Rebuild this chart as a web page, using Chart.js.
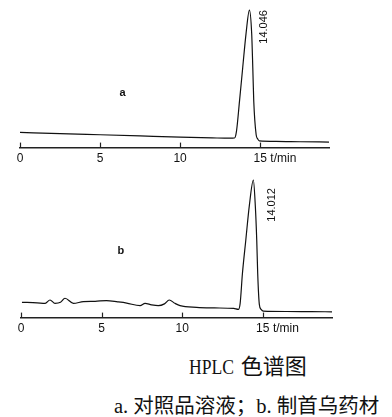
<!DOCTYPE html>
<html>
<head>
<meta charset="utf-8">
<script src="https://cdn.jsdelivr.net/npm/chart.js@4/dist/chart.umd.min.js"></script>
<style>
  body { margin: 0; background: #fff; }
  .wrap { position: relative; width: 392px; height: 417px; }
  canvas { position: absolute; left: 0; }
  #chartA { top: 0; }
  #chartB { top: 170px; }
  .cap { position: absolute; color: #111; white-space: nowrap; font-family: "Liberation Serif", "Noto Sans CJK SC", serif; }
  .cap1 { left: 189px; top: 348px; font-size: 22px; }
  .cap1 .lat { display: inline-block; transform: scaleX(0.8); transform-origin: left center; margin-right: -10px; }
  .cap2 { left: 114px; top: 389px; font-size: 20.5px; }
</style>
</head>
<body>
<div class="wrap">
  <canvas id="chartA" width="392" height="170"></canvas>
  <canvas id="chartB" width="392" height="170"></canvas>
  <div class="cap cap1"><span class="lat">HPLC</span> 色谱图</div>
  <div class="cap cap2">a. 对照品溶液；b. 制首乌药材</div>
</div>
<script>
// retention time (min) and detector signal
const timeA = [0, 2.5, 5, 7.5, 10, 12, 13.1, 13.4, 13.52, 13.71, 13.91, 14.12, 14.33, 14.47, 14.54, 14.6, 14.75, 14.85, 14.95, 16, 17.5, 19.3];
const signalA = [15, 13.9, 12.7, 11.5, 10.3, 9.6, 9.3, 9.5, 16, 46, 79, 113, 136, 113, 79, 46, 12.7, 8.5, 6.7, 6.2, 5.8, 5.5];

const timeB = [0.06, 1.0, 1.5, 1.8, 2.11, 2.45, 2.73, 3.25, 3.87, 4.6, 5.3, 6.0, 6.56, 7.39, 7.7, 8.1, 8.52, 8.9, 9.2, 9.55, 9.87, 10.9, 12.0, 13.2, 13.49, 13.6, 13.74, 13.95, 14.17, 14.42, 14.54, 14.63, 14.69, 14.79, 14.9, 15.04, 16.5, 18, 19.3];
const signalB = [15, 14.5, 14, 17.3, 14, 15, 19, 14, 15.7, 16, 16.7, 15.5, 14.3, 11.7, 14, 12.5, 11.7, 13.5, 17.3, 14, 11.7, 10, 9.5, 9, 8, 14, 43, 76, 110, 135, 110, 76, 43, 13, 8, 6.3, 6, 5.8, 5.7];

const tickValues = [0, 5, 10, 15];
const unitLabel = "t/min";
const traceNames = ["a", "b"];
const peakLabels = ["14.046", "14.012"];

const axisFont = { family: "Liberation Sans", size: 12 };

const decor = {
  id: "decor",
  afterDraw (chart, args, opts) {
    const { ctx, scales: { x, y } } = chart;
    ctx.save();
    ctx.strokeStyle = "#222";
    ctx.lineWidth = 1.2;
    tickValues.forEach((v) => {
      const px = Math.round(x.getPixelForValue(v)) + 0.5;
      ctx.beginPath();
      ctx.moveTo(px, x.top);
      ctx.lineTo(px, x.top - 5);
      ctx.stroke();
    });

    // axis unit placed right after the "15" label
    ctx.fillStyle = "#111";
    ctx.font = `${axisFont.size}px "${axisFont.family}"`;
    ctx.textBaseline = "middle";
    ctx.textAlign = "left";
    const last = tickValues[tickValues.length - 1];
    const lx = x.getPixelForValue(last) + ctx.measureText(String(last)).width / 2 + 3.5;
    const ly = x.top + 4 + axisFont.size * 1.2 / 2;
    ctx.fillText(unitLabel, lx, ly);

    // trace name
    ctx.font = 'bold 11px "Liberation Sans"';
    ctx.textAlign = "center";
    ctx.fillText(opts.name, x.getPixelForValue(opts.nameAt[0]), y.getPixelForValue(opts.nameAt[1]));

    // retention time written up the side of the peak
    const ds = chart.data.datasets[0].data;
    const apex = ds.reduce((a, b) => (b.y > a.y ? b : a));
    ctx.translate(x.getPixelForValue(apex.x) + opts.labelDx, y.getPixelForValue(apex.y) + opts.labelDy);
    ctx.rotate(-Math.PI / 2);
    ctx.textAlign = "right";
    ctx.font = '11px "Liberation Sans"';
    ctx.fillText(opts.peak, 0, 0);
    ctx.restore();
  },
};

function makeChart (id, times, signal, idx, padTop, padLeft, padRight, labelDx, labelDy, nameAt) {
  return new Chart(document.getElementById(id), {
    type: "line",
    data: {
      datasets: [{
        data: times.map((t, i) => ({ x: t, y: signal[i] })),
        borderColor: "#111",
        borderWidth: 1.2,
        pointRadius: 0,
        cubicInterpolationMode: "monotone",
        fill: false,
      }],
    },
    options: {
      responsive: false,
      animation: false,
      devicePixelRatio: 1,
      layout: { padding: { top: padTop, left: padLeft, right: padRight, bottom: 0 } },
      plugins: {
        legend: { display: false },
        tooltip: { enabled: false },
        decor: { name: traceNames[idx], nameAt, peak: peakLabels[idx], labelDx, labelDy },
      },
      scales: {
        x: {
          type: "linear",
          min: 0,
          max: 19.3,
          grid: { display: false, drawTicks: false },
          border: { display: true, color: "#222", width: 1.5 },
          ticks: {
            stepSize: 5,
            includeBounds: false,
            padding: 4,
            color: "#111",
            font: axisFont,
            maxRotation: 0,
          },
        },
        y: {
          display: false,
          min: 0,
          max: 140,
        },
      },
    },
    plugins: [decor],
  });
}

makeChart("chartA", timeA, signalA, 0, 6, 20, 63, 15, 0, [6.4, 54]);
makeChart("chartB", timeB, signalB, 1, 5, 21, 60, 19, 8, [6.2, 65]);
</script>
</body>
</html>
